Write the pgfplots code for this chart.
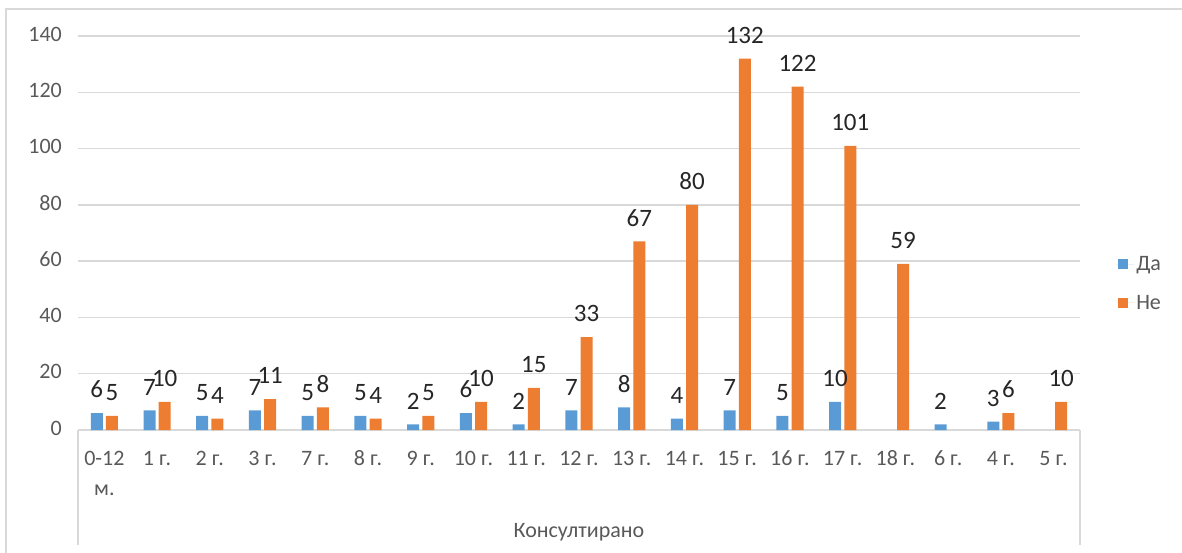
\documentclass[border=0pt]{standalone}
\usepackage{pgfplots}
\pgfplotsset{compat=1.18}
\usepackage{fontspec}
\setmainfont{Carlito}
\definecolor{blueS}{HTML}{5B9BD5}
\definecolor{orangeS}{HTML}{ED7D31}
\definecolor{gridc}{HTML}{D9D9D9}
\definecolor{tickc}{HTML}{595959}
\definecolor{labc}{HTML}{262626}
\begin{document}
\begin{tikzpicture}[x=1pt,y=1pt]
\useasboundingbox (0,0) rectangle (1182,552);
% outer frame
\draw[gridc,line width=1.6pt] (6,-20) -- (6,543) -- (1200,543);
% category box
\draw[gridc,line width=1.4pt] (78,122) -- (78,7);
\draw[gridc,line width=1.4pt] (1080,122) -- (1080,7);
\begin{axis}[
  at={(78pt,122pt)}, anchor=south west,
  scale only axis, width=1002pt, height=394pt,
  xmin=-0.5, xmax=18.5, ymin=0, ymax=140,
  ybar=3.2pt, bar width=12pt,
  ytick={0,20,...,140},
  xtick={0,...,18},
  xticklabels={{0-12\\м.},1 г.,2 г.,3 г.,7 г.,8 г.,9 г.,10 г.,11 г.,12 г.,13 г.,14 г.,15 г.,16 г.,17 г.,18 г.,6 г.,4 г.,5 г.},
  typeset ticklabels with strut,
  /pgf/number format/assume math mode=true,
  ymajorgrids, grid style={gridc,line width=1.3pt},
  axis x line*=bottom, axis y line*=left,
  x axis line style={gridc,line width=1.4pt,-},
  y axis line style={draw=none},
  tick style={draw=none},
  major tick length=0pt,
  yticklabel style={font=\fontsize{22}{26}\selectfont,text=tickc,inner sep=0pt,xshift=-16pt},
  xticklabel style={font=\fontsize{22}{30}\selectfont,text=tickc,inner sep=0pt,align=center,anchor=north,yshift=-14pt},
  xlabel={Консултирано},
  xlabel style={font=\fontsize{22}{26}\selectfont,text=tickc,at={(axis description cs:0.5,0)},anchor=base,yshift=-107pt},
  nodes near coords,
  every node near coord/.append style={font=\fontsize{25}{28}\selectfont,text=labc,inner sep=0pt,anchor=south,yshift=15pt},
  legend style={draw=none,at={(1.036,0.372)},anchor=west,font=\fontsize{22}{26}\selectfont,text=tickc,row sep=19pt,inner sep=0pt},
  legend cell align=left,
  legend image code/.code={\fill[#1,draw=none] (2pt,-5pt) rectangle (12pt,5pt); \path (0pt,0pt) -- (18pt,0pt);},
]
\addplot[fill=blueS,draw=none] coordinates {(0,6)(1,7)(2,5)(3,7)(4,5)(5,5)(6,2)(7,6)(8,2)(9,7)(10,8)(11,4)(12,7)(13,5)(14,10)(16,2)(17,3)};
\addplot[fill=orangeS,draw=none] coordinates {(0,5)(1,10)(2,4)(3,11)(4,8)(5,4)(6,5)(7,10)(8,15)(9,33)(10,67)(11,80)(12,132)(13,122)(14,101)(15,59)(17,6)(18,10)};
\legend{Да,Не}
\end{axis}
\end{tikzpicture}
\end{document}
